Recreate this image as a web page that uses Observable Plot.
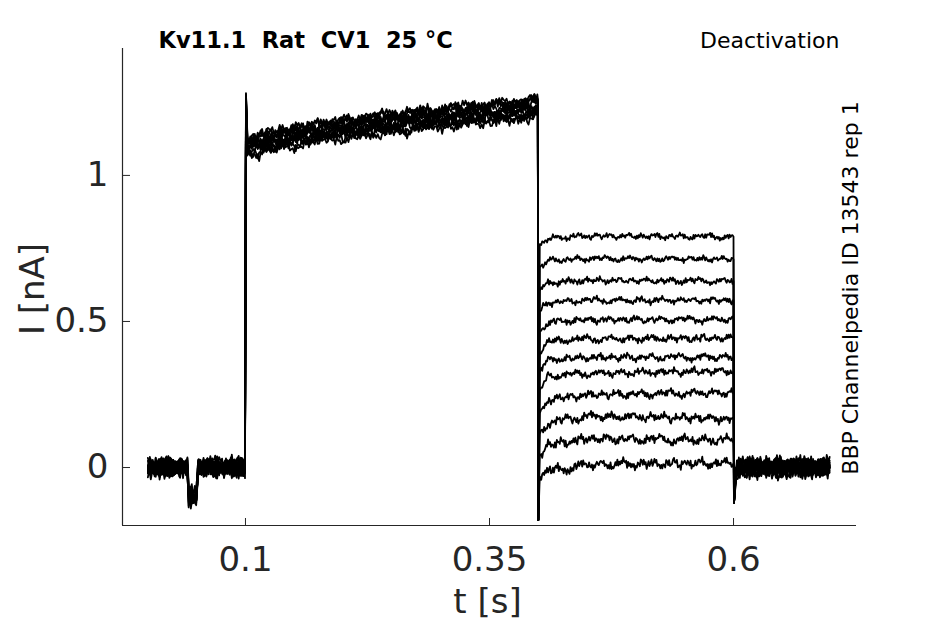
<!DOCTYPE html>
<html><head><meta charset="utf-8">
<script src="https://cdn.jsdelivr.net/npm/d3@7"></script>
<script src="https://cdn.jsdelivr.net/npm/@observablehq/plot@0.6"></script>
<style>body{margin:0;background:#fff;}#chart{width:945px;height:624px;}</style>
</head><body><div id="chart"></div>
<script>
// ---- text ----
const titleText = "Kv11.1  Rat  CV1  25 °C";
const protocolText = "Deactivation";
const sourceText = "BBP Channelpedia ID 13543 rep 1";
const xLabel = "t [s]";
const yLabel = "I [nA]";
// ---- axes ----
const xTicks = [0.1, 0.35, 0.6];
const yTicks = [0, 0.5, 1];
const xDomain = [-0.026, 0.726];
const yDomain = [-0.1985, 1.4345];
// ---- sweeps ----
const sweepIds = [1, 2, 3, 4, 5, 6, 7, 8, 9, 10, 11, 12];
const baseOffset = [0.013, -0.014, 0.005, -0.008, 0.015, -0.003, 0.009, -0.012, 0.001, -0.005, 0.011, -0.010];
const actOffset = [0.024, -0.018, 0.011, -0.028, 0.032, 0.000, -0.011, 0.018, -0.022, 0.028, -0.006, 0.006];
const postOffset = [-0.008, 0.012, -0.013, 0.005, 0.010, -0.004, 0.014, -0.011, 0.002, -0.014, 0.007, 0.000];
// shared pieces of the protocol response
const preT = [0, 0.0405, 0.0418, 0.0495, 0.0515, 0.0995];
const preI = [0, 0, -0.095, -0.105, 0, 0];
const actT = [0.1005, 0.102, 0.105, 0.177, 0.256, 0.39, 0.3995];
const actI = [1.25, 1.10, 1.10, 1.147, 1.18, 1.225, 1.232];
const capT = [0.4, 0.6005];
const capI = [-0.18, -0.12];
const postT = [0.6025, 0.605, 0.7];
const postI = [-0.02, 0, 0];
// tail currents per sweep
const tailT = [0.4015, 0.41, 0.45, 0.6];
const tailStart = [0.765, 0.685, 0.605, 0.535, 0.465, 0.395, 0.325, 0.265, 0.185, 0.115, 0.040, -0.030];
const tailEarly = [0.785, 0.708, 0.632, 0.565, 0.497, 0.432, 0.368, 0.312, 0.232, 0.152, 0.076, -0.015];
const tailMid   = [0.792, 0.715, 0.640, 0.572, 0.505, 0.440, 0.376, 0.322, 0.248, 0.176, 0.098, 0.010];
const tailEnd   = [0.790, 0.713, 0.638, 0.572, 0.507, 0.442, 0.378, 0.330, 0.257, 0.166, 0.093, 0.014];
const tailNoise = [0.014, 0.014, 0.015, 0.015, 0.016, 0.017, 0.017, 0.017, 0.018, 0.020, 0.021, 0.023];
// recording noise patterns (hand-read wiggle, relative units): fast jitter and slow drift
const noiseFast = [0.35,-0.52,0.81,-0.18,-0.92,0.44,0.12,-0.63,0.71,-0.08,
 0.55,-0.84,0.22,0.93,-0.41,-0.27,0.64,-0.73,0.03,0.46,
 -0.55,0.78,-0.95,0.31,0.14,-0.22,0.69,-0.61,0.52,-0.11,
 -0.83,0.58,0.24,-0.43,0.88,-0.35,0.02,-0.72,0.41,0.57,
 -0.66,0.09,0.84,-0.48,-0.19,0.33,-0.91,0.73,-0.06,0.21,
 0.62,-0.38,-0.81,0.49,-0.02,-0.31,0.95,-0.59,0.42,-0.24,
 0.13,0.74,-0.53,-0.88,0.28,0.61,-0.14,-0.45,0.82,-0.69,
 0.18,0.04,-0.33,0.51,-0.79,0.91,-0.21,0.39,-0.62,0.07,
 0.34,-0.51,0.68,-0.94,0.59,-0.12,0.26,-0.39,0.86,-0.28,
 0.01,0.48,-0.74,0.89,-0.57,0.16,-0.23,0.67,-0.46,0.29,-0.85];
const noiseSlow = [0.2,0.5,0.3,-0.1,-0.6,-0.4,0.1,0.7,0.4,0.9,
 0.3,-0.2,-0.5,-0.9,-0.3,0.0,0.4,0.2,-0.3,-0.1,
 0.5,0.8,0.6,0.1,-0.4,-0.7,-0.5,-0.8,-0.2,0.3,
 0.1,0.6,0.4,-0.1,0.2,0.7,1.0,0.5,0.0,-0.5,
 -0.3,-0.7,-1.0,-0.6,-0.2,0.3,0.0,0.4,0.8,0.5,
 0.2,-0.3,0.1,-0.4,-0.8,-0.5,0.0,0.6,0.3,0.7,
 0.2,-0.1,-0.6,-0.3,-0.9,-0.4,0.2,0.5,0.1,0.6,
 0.9,0.4,-0.2,0.1,-0.5,-0.2,-0.7,-0.3,0.3,0.7,
 0.4,0.0,-0.4,-0.1,0.5,0.2,0.8,0.3,-0.3,-0.8,
 -0.5,-0.1,0.4,0.1,-0.2,0.6,0.9,0.2,-0.4,-0.6,0.0];

function interp(ts, vs, t) {
  if (t <= ts[0]) return vs[0];
  for (let k = 0; k < ts.length - 1; k++) {
    if (t <= ts[k + 1]) return vs[k] + (vs[k + 1] - vs[k]) * (t - ts[k]) / (ts[k + 1] - ts[k]);
  }
  return vs[vs.length - 1];
}

const rows = [];
sweepIds.forEach((id, s) => {
  let j = 0;
  const nz = amp => {
    const a = noiseFast[(j + s * 37) % noiseFast.length];
    const b = noiseSlow[(Math.floor(j / 2) + s * 53) % noiseSlow.length];
    j++;
    return (0.55 * a + 0.65 * b) * amp;
  };
  const push = (t, i) => rows.push({sweep: id, t, i});
  const preTimes = Array.from(new Set([...d3.range(0, 0.0995, 0.001), ...preT])).sort((a, b) => a - b);
  for (const t of preTimes) push(t, interp(preT, preI, t) + baseOffset[s] + nz(0.03));
  push(actT[0], actI[0] + actOffset[s]);
  const aT = actT.slice(1), aI = actI.slice(1);
  for (const t of d3.range(aT[0], aT[aT.length - 1], 0.0015)) push(t, interp(aT, aI, t) + actOffset[s] + nz(0.026));
  push(aT[aT.length - 1], aI[aI.length - 1] + actOffset[s]);
  push(capT[0], capI[0]);
  const tI = [tailStart[s], tailEarly[s], tailMid[s], tailEnd[s]];
  push(tailT[0], tI[0]);
  for (const t of d3.range(0.403, tailT[3], 0.001)) push(t, interp(tailT, tI, t) + nz(tailNoise[s]));
  push(tailT[3], tI[3]);
  push(capT[1], capI[1]);
  for (const t of d3.range(postT[0], 0.6995, 0.001)) push(t, interp(postT, postI, t) + postOffset[s] + nz(0.03));
});

const axisColor = "#262626";
const W = 945, H = 624, mL = 122, mR = 89, mT = 48, mB = 99;
const fmt = d => `${d}`;

const chart = Plot.plot({
  width: W, height: H,
  marginLeft: mL, marginRight: mR, marginTop: mT, marginBottom: mB,
  style: {fontFamily: "DejaVu Sans", background: "#fff", color: axisColor},
  x: {domain: xDomain},
  y: {domain: yDomain},
  marks: [
    Plot.line(rows, {x: "t", y: "i", z: "sweep", stroke: "#000", strokeWidth: 1.8, strokeLinejoin: "round"}),
    Plot.ruleX([xDomain[0]], {stroke: axisColor, strokeWidth: 1.2}),
    Plot.ruleY([yDomain[0]], {stroke: axisColor, strokeWidth: 1.2}),
    Plot.tickX(xTicks, {x: d => d, stroke: axisColor, insetTop: H - mT - mB - 7}),
    Plot.tickY(yTicks, {y: d => d, stroke: axisColor, insetRight: W - mL - mR - 8}),
    Plot.axisX(xTicks, {tickSize: 0, tickPadding: 21, fontSize: 34, color: axisColor, label: null, tickFormat: fmt}),
    Plot.axisY(yTicks, {tickSize: 0, tickPadding: 14, fontSize: 34, color: axisColor, label: null, tickFormat: fmt}),
    Plot.text([xLabel], {text: d => d, frameAnchor: "bottom", dy: 77, dx: -2, fontSize: 34, fill: axisColor, textAnchor: "middle", lineAnchor: "middle"}),
    Plot.text([yLabel], {text: d => d, frameAnchor: "left", dx: -89, dy: 2, rotate: -90, fontSize: 34, fill: axisColor, textAnchor: "middle", lineAnchor: "middle"}),
    Plot.text([titleText], {text: d => d, frameAnchor: "top-left", dx: 36, dy: -8, fontSize: 22.5, fontWeight: "bold", fill: "#000", textAnchor: "start", lineAnchor: "middle"}),
    Plot.text([protocolText], {text: d => d, frameAnchor: "top-right", dx: -17, dy: -8, fontSize: 22, fill: "#000", textAnchor: "end", lineAnchor: "middle"}),
    Plot.text([sourceText], {text: d => d, frameAnchor: "right", dx: -6, dy: 1, rotate: -90, fontSize: 22, fill: "#000", textAnchor: "middle", lineAnchor: "middle"})
  ]
});
document.getElementById("chart").appendChild(chart);
</script>
</body></html>
